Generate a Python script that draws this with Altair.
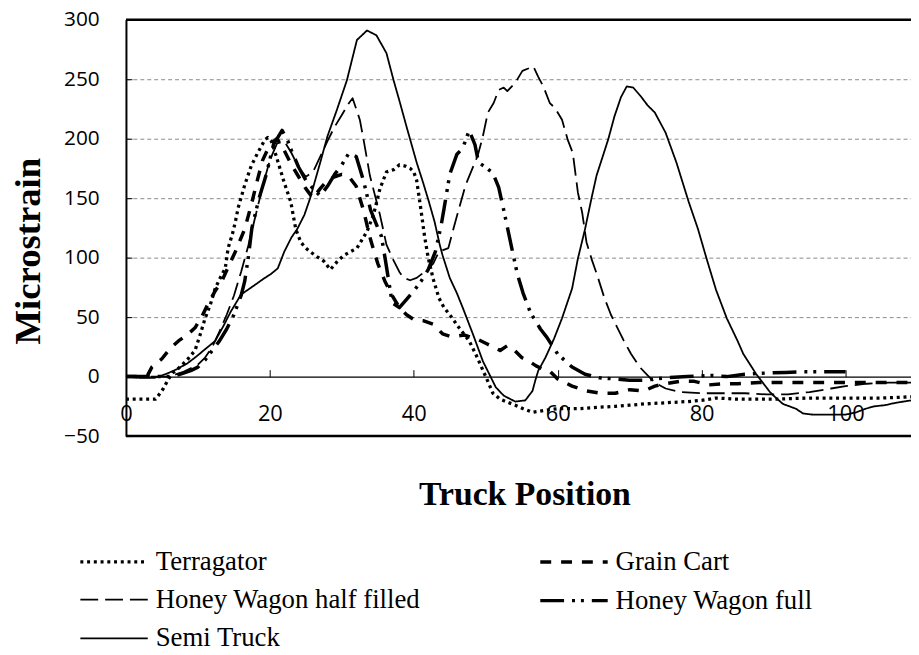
import altair as alt
import pandas as pd

# ---------------- data ----------------
series_names = ["Terragator", "Grain Cart", "Honey Wagon half filled", "Honey Wagon full", "Semi Truck"]

terr_x = [0, 2, 4.1, 4.5, 5.2, 5.9, 6.5, 7.5, 8.5, 9.6, 10.3, 11, 11.7, 12.4, 13.1, 13.8, 14.2, 14.8, 15.2, 15.6,
          16.5, 17.4, 18.3, 19.3, 19.7, 20.2, 20.6, 21.3, 22, 22.9, 23.6, 24.3, 25, 25.6, 26.5, 27.5, 28.4, 29.4, 30.3, 31.2,
          32.1, 33.5, 34.4, 35.3, 36.2, 37.2, 38, 38.8, 39.5, 40, 40.4, 41, 41.5, 42, 42.7, 43.5, 44.2, 45, 46.3, 47.7,
          48.6, 50, 51, 52, 52.8, 54.1, 55.2, 56.5, 58.7, 60, 62.8, 65, 68, 70, 72, 75, 78, 80, 82, 85,
          88, 90, 95, 100, 105, 109.1]
terr_y = [-19, -19, -19, -16, -10, -2, 3, 8, 14, 22, 35, 49, 60, 74, 83, 91, 108, 120, 130, 142,
          161, 177, 188, 199, 201, 198, 191, 177, 163, 147, 124, 113, 108, 105, 101, 97, 90, 97, 102, 105,
          108, 122, 136, 158, 172, 174, 178, 177, 175, 172, 165, 140, 118, 100, 82, 66, 58, 52, 41, 30,
          19, 0, -14, -19, -21, -24, -27, -30, -28, -27, -27, -26, -25, -24, -23, -22, -21, -20, -18, -19,
          -19, -19, -18, -18, -18, -17]

gc_x = [0, 1.5, 3, 3.6, 5, 6.2, 7.3, 8.5, 9.6, 10.5, 11.4, 12.4, 13.3, 14.2, 15.2, 16.5, 17.4, 18.3, 19, 20,
        21, 22, 23, 24, 25, 26, 27, 28, 29, 30, 31, 32, 33, 34, 35, 36, 37, 38, 39, 40,
        41.3, 42.7, 44, 45, 46, 47, 48, 49, 50, 51, 52, 53, 54, 55, 56, 57, 58, 59, 60, 61,
        62, 63, 64, 66, 68, 70, 72, 73.5, 75, 77, 79, 81, 83, 85, 88, 91, 94, 97, 100, 103,
        106, 109.1]
gc_y = [0, 0, 1, 8, 15, 24, 30, 35, 41, 50, 61, 72, 80, 92, 105, 124, 144, 166, 182, 195,
        200, 190, 178, 168, 158, 150, 158, 165, 168, 170, 168, 160, 140, 115, 95, 80, 68, 58, 52, 48,
        47, 44, 36, 34, 34, 35, 33, 31, 28, 25, 22, 26, 22, 16, 13, 9, 6, 4, -2, -5,
        -8, -10, -12, -14, -14, -11, -12, -8, -6, -4, -4, -7, -6, -6, -5, -5, -5, -5, -5, -5,
        -5, -5]

hh_x = [0, 3, 6, 7, 8, 9, 10, 11, 12, 13, 14, 15, 16, 17, 18, 19, 20, 21, 22, 23,
        24, 25, 26, 27, 28, 29, 30, 31, 31.5, 32, 32.5, 33, 33.9, 35.3, 36.2, 37, 38, 38.6, 39.5, 40.4,
        41.5, 42.7, 43.5, 44.8, 45.9, 47.2, 48.9, 49.6, 50.3, 51.1, 51.8, 52.5, 53, 54.1, 55.1, 55.9, 56.6, 57.3, 58, 58.9,
        59.6, 60.6, 61.4, 62.1, 62.8, 63.4, 64, 64.7, 65.5, 66.5, 67.4, 68.3, 69.2, 70.2, 71.4, 72.5, 73.5, 75, 77, 80,
        83, 86, 89, 92, 95, 98, 100, 103, 106, 109.1]
hh_y = [0, 0, 0, 2, 4, 7, 10, 16, 25, 38, 52, 68, 88, 110, 135, 160, 182, 196, 198, 188,
        176, 168, 172, 185, 198, 210, 220, 230, 234, 225, 216, 200, 169, 136, 111, 100, 88, 83, 81, 83,
        88, 95, 105, 108, 133, 161, 186, 202, 222, 230, 241, 243, 240, 247, 257, 259, 261, 252, 244, 230,
        226, 216, 199, 188, 155, 138, 113, 99, 85, 66, 52, 41, 30, 19, 8, 1, -5, -10, -13, -14,
        -14, -14, -15, -15, -13, -10, -8, -6, -5, -5]

hf_x = [0, 3, 6, 7, 8, 9, 10, 11, 12, 13, 14, 15, 16, 16.5, 17, 17.5, 18.5, 19.5, 20.5, 21.7,
        22.5, 23, 24, 25, 26, 27, 28, 29, 30, 31, 32, 33, 34, 35, 35.5, 36, 37, 38, 39, 40,
        41, 42, 43, 43.8, 44.2, 45, 46, 46.8, 47.7, 48.5, 49, 50, 51, 51.8, 52.5, 53.2, 53.9, 54.4, 55.2, 56.2,
        57.6, 58.5, 60, 62, 63.8, 65.8, 68, 70, 72, 75, 78, 81.4, 83.5, 86, 89, 91.7, 93.8, 96, 98, 100]
hf_y = [0, 0, 0, 1, 3, 5, 8, 14, 22, 30, 40, 52, 68, 80, 100, 125, 150, 170, 195, 207,
        198, 190, 176, 165, 158, 152, 160, 170, 178, 188, 185, 165, 140, 125, 118, 100, 62, 58, 65, 72,
        80, 90, 105, 127, 141, 170, 187, 192, 207, 195, 180, 176, 171, 159, 140, 120, 100, 86, 70, 54,
        40, 33, 19, 8, 2, -1, -2, -3, -3, -1, 0, 1, 0, 2, 3, 3.5, 4, 4, 4, 4]

st_x = [0, 2, 4, 5.5, 7, 8.5, 9.6, 11, 12.4, 13.5, 14.6, 16, 17.9, 19.3, 20.1, 21.1, 22, 23, 23.8, 24.8,
        25.6, 26.2, 27, 28, 29.3, 30.7, 32.1, 33.5, 34.8, 36.2, 37.2, 38, 39, 40.4, 41.3, 42.1, 42.9, 43.6, 44, 45,
        46, 46.8, 48.2, 49.6, 51.4, 52.5, 54.1, 55.5, 56.5, 56.9, 57.3, 58.3, 59.5, 60.6, 62, 62.8, 63.8, 64.7, 65.4, 67,
        67.9, 68.8, 69.6, 70.5, 71.5, 72.5, 73.5, 75, 76.5, 78.2, 79.5, 80.7, 82, 83.5, 85, 85.8, 87.6, 89.5, 90, 91.3,
        93.1, 94.1, 95.5, 97.3, 100, 101.5, 102.8, 104, 105.5, 107, 109.1]
st_y = [0, -1, -1, 2, 6, 11, 16, 23, 30, 42, 55, 69, 77, 83, 86, 91, 105, 117, 124, 136,
        150, 163, 180, 202, 224, 249, 283, 291, 287, 272, 249, 232, 210, 180, 163, 147, 130, 111, 102, 83,
        70, 58, 36, 13, -9, -16, -21, -20, -12, -3, 5, 16, 32, 49, 74, 99, 124, 150, 169, 199,
        219, 235, 244, 243, 236, 228, 222, 205, 180, 147, 124, 99, 73, 49, 30, 19, 2, -13, -16, -23,
        -27, -31, -32, -32, -32, -30, -27, -25, -24, -22, -20]

x_ticks = [0, 20, 40, 60, 80, 100]
y_ticks = [-50, 0, 50, 100, 150, 200, 250, 300]
frame_levels = [300, -50]

# ---------------- build table ----------------
rows = []
for name, xs, ys in [(series_names[0], terr_x, terr_y), (series_names[1], gc_x, gc_y),
                     (series_names[2], hh_x, hh_y), (series_names[3], hf_x, hf_y),
                     (series_names[4], st_x, st_y)]:
    for i, (xv, yv) in enumerate(zip(xs, ys)):
        rows.append({"series": name, "i": i, "x": xv, "y": yv})
df = pd.DataFrame(rows)
frame_df = pd.DataFrame({"y": frame_levels})

dash_range = [[3, 3.8], [11, 10], [18, 7], [24, 8, 3, 6, 3, 8], [1, 0]]
width_range = [3.3, 3.5, 1.8, 3.5, 1.8]

legend = alt.Legend(
    title=None, orient="none", legendX=-31, legendY=528, columns=2, direction="horizontal",
    columnPadding=114, rowPadding=7, symbolType="M-2,0H2", symbolSize=1156,
    symbolStrokeColor="black", labelFont="Liberation Serif", labelFontSize=27,
    labelColor="black", labelOffset=23, labelLimit=0, symbolLimit=0,
)

x_axis = alt.Axis(
    values=x_ticks, offset=-60, tickSize=alt.ExprRef(expr="-7"), labelPadding=34,
    domainColor="black", domainWidth=1.3, tickColor="black", tickWidth=1,
    labelFont="Open Sans", labelFontSize=22, labelColor="black", labelFlush=False,
    grid=False, title="Truck Position", titleFont="Liberation Serif", titleFontSize=34,
    titleFontWeight="bold", titleColor="black", titleX=402, titleY=129,
    titleAlign="center", titleBaseline="alphabetic",
)
y_axis = alt.Axis(
    values=y_ticks, tickSize=alt.ExprRef(expr="-6"), labelPadding=33,
    domainColor="black", domainWidth=2, tickColor="black", tickWidth=1,
    labelFont="Open Sans", labelFontSize=21, labelColor="black", labelFlush=False,
    grid=True, gridDash=[4, 3], gridColor="#8a8a8a", gridWidth=1,
    gridOpacity={"condition": {"test": "datum.value <= 0 || datum.value >= 300", "value": 0}, "value": 1},
    title="Microstrain", titleFont="Liberation Serif", titleFontSize=37, titleFontWeight="bold",
    titleColor="black", titleAngle=270, titleX=-87, titleY=233, titleAlign="center",
    titleBaseline="alphabetic",
)

x_scale = alt.Scale(domain=[0, 109.1], nice=False, zero=False)
y_scale = alt.Scale(domain=[-50, 300], nice=False, zero=False)

lines = alt.Chart(df).mark_line(clip=True, color="black", strokeJoin="round").encode(
    x=alt.X("x:Q", scale=x_scale, axis=x_axis),
    y=alt.Y("y:Q", scale=y_scale, axis=y_axis),
    strokeDash=alt.StrokeDash("series:N", scale=alt.Scale(domain=series_names, range=dash_range), legend=legend),
    strokeWidth=alt.StrokeWidth("series:N", scale=alt.Scale(type="ordinal", domain=series_names, range=width_range), legend=legend),
    order=alt.Order("i:Q"),
)

frame = alt.Chart(frame_df).mark_rule(color="black", strokeWidth=2.5).encode(
    y=alt.Y("y:Q", scale=y_scale),
)

chart = alt.layer(lines, frame).properties(
    width=792, height=420,
    autosize=alt.AutoSizeParams(type="none"),
    padding={"left": 119, "top": 9, "right": 0, "bottom": 218},
).configure_view(stroke=None).configure(background="white")

chart.save("out.html", embed_options={"renderer": "svg", "actions": False})
